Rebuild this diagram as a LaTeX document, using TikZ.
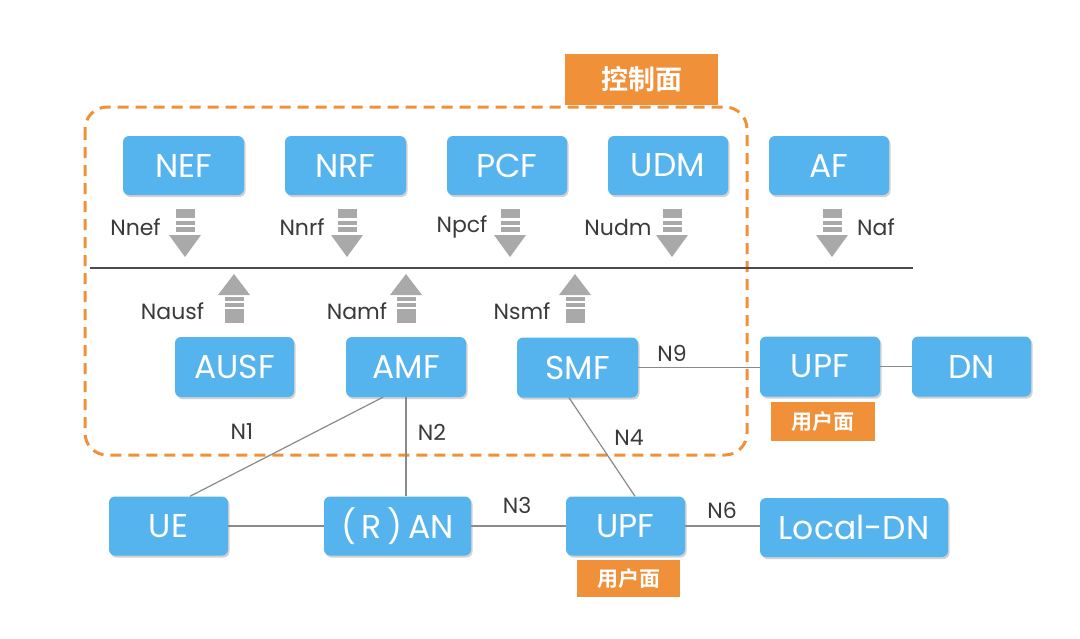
\documentclass[tikz,border=0pt]{standalone}
\usepackage{fontspec}
\setmainfont{Poppins}
\newfontfamily\cjkfont{Noto Sans CJK SC}[BoldFont={Noto Sans CJK SC Bold}]
\usetikzlibrary{shadows,calc}
\definecolor{boxblue}{HTML}{55B3EE}
\definecolor{planeorange}{HTML}{F0913A}
\definecolor{arrowgray}{HTML}{A9A9A9}
\definecolor{linegray}{HTML}{8A8A8A}
\definecolor{txtgray}{HTML}{3A3A3A}
\tikzset{
  nfbox/.style={rounded corners=6pt, fill=boxblue, text=white, inner sep=0pt,
    font=\fontsize{33}{33}\selectfont,
    drop shadow={shadow xshift=1.5pt, shadow yshift=-2pt, opacity=0.18, fill=black}},
  ifacelbl/.style={text=txtgray, font=\fontsize{22}{22}\selectfont, inner sep=0pt},
  planetag/.style={fill=planeorange, text=white, inner sep=0pt,
    font=\cjkfont\bfseries\fontsize{21}{21}\selectfont},
  conn/.style={draw=linegray, line width=1.2pt},
}
\newcommand{\downarrowicon}[2]{% center x, top y
  \fill[arrowgray] (#1-9.5,#2) rectangle (#1+9.5,#2+9);
  \fill[arrowgray] (#1-9.5,#2+12) rectangle (#1+9.5,#2+16);
  \fill[arrowgray] (#1-9.5,#2+18) rectangle (#1+9.5,#2+23);
  \fill[arrowgray] (#1-16,#2+26) -- (#1+16,#2+26) -- (#1,#2+48) -- cycle;
}
\newcommand{\uparrowicon}[2]{% center x, tip y
  \fill[arrowgray] (#1-16,#2+21) -- (#1+16,#2+21) -- (#1,#2) -- cycle;
  \fill[arrowgray] (#1-9.5,#2+23) rectangle (#1+9.5,#2+27);
  \fill[arrowgray] (#1-9.5,#2+29) rectangle (#1+9.5,#2+33);
  \fill[arrowgray] (#1-9.5,#2+35) rectangle (#1+9.5,#2+49);
}
\begin{document}
\begin{tikzpicture}[x=1pt,y=-1pt]
\useasboundingbox[fill=white] (0,0) rectangle (1080,638);

% control plane dashed region
\draw[planeorange, line width=3pt, dash pattern=on 11pt off 7pt, rounded corners=22pt]
  (85,107) rectangle (747,455);
\node[planetag, minimum width=153pt, minimum height=51pt,
  font=\cjkfont\bfseries\fontsize{27}{27}\selectfont] (cplane) at (641.5,79.5) {控制面};

% service bus line
\coordinate (busL) at (90,268);
\coordinate (busR) at (913,268);
\draw[draw=black!70, line width=2.2pt] (busL) -- (busR);

% top row
\node[nfbox, minimum width=121pt, minimum height=59pt] (nef) at (183.5,165.5) {NEF};
\node[nfbox, minimum width=121pt, minimum height=59pt] (nrf) at (345.5,165.5) {NRF};
\node[nfbox, minimum width=120pt, minimum height=59pt] (pcf) at (507,165.5) {PCF};
\node[nfbox, minimum width=120pt, minimum height=59pt] (udm) at (668,165.5) {UDM};
\node[nfbox, minimum width=120pt, minimum height=59pt] (af) at (829,165.5) {AF};

% middle row
\node[nfbox, minimum width=119pt, minimum height=60pt] (ausf) at (234.5,367) {AUSF};
\node[nfbox, minimum width=120pt, minimum height=60pt] (amf) at (406,367) {AMF};
\node[nfbox, minimum width=121pt, minimum height=60pt] (smf) at (577.5,367.5) {SMF};
\node[nfbox, minimum width=120pt, minimum height=60pt] (upfa) at (820,366.5) {UPF};
\node[nfbox, minimum width=119pt, minimum height=60pt] (dn) at (971.5,366.5) {DN};
\node[planetag, minimum width=104pt, minimum height=39pt] (uplaneA) at (823,421.5) {用户面};

% bottom row
\node[nfbox, minimum width=119pt, minimum height=59pt] (ue) at (168.5,526) {UE};
\node[nfbox, minimum width=147pt, minimum height=59pt] (an) at (397.5,526) {(\,R\,)\,AN};
\node[nfbox, minimum width=119pt, minimum height=59pt] (upfb) at (625.5,526) {UPF};
\node[nfbox, minimum width=188pt, minimum height=59pt] (ldn) at (854,527.5) {Local-DN};
\node[planetag, minimum width=103pt, minimum height=37pt] (uplaneB) at (628.5,578.5) {用户面};

% service interface arrows
\downarrowicon{185}{209}
\downarrowicon{347}{209}
\downarrowicon{510}{209}
\downarrowicon{672}{209}
\downarrowicon{832}{209}
\uparrowicon{234}{274}
\uparrowicon{406}{274}
\uparrowicon{575}{274}

\node[ifacelbl] (lnef) at (135.5,227) {Nnef};
\node[ifacelbl] (lnrf) at (302,227) {Nnrf};
\node[ifacelbl] (lpcf) at (462,227) {Npcf};
\node[ifacelbl] (ludm) at (618,227) {Nudm};
\node[ifacelbl] (laf) at (876,227) {Naf};
\node[ifacelbl] (lausf) at (172.5,311) {Nausf};
\node[ifacelbl] (lamf) at (357,311) {Namf};
\node[ifacelbl] (lsmf) at (522,311) {Nsmf};

% reference point connectors
\draw[conn] ($(amf.south)+(-23,0)$) -- ($(ue.north)+(21.5,0)$);
\draw[conn] (amf.south) -- (amf.south |- an.north);
\draw[conn] ($(smf.south)+(-8.5,0)$) -- ($(upfb.north)+(9.5,0)$);
\draw[conn] (smf.east) -- (smf.east -| upfa.west);
\draw[conn] (upfa.east) -- (dn.west);
\draw[conn] (ue.east) -- (ue.east -| an.west);
\draw[conn] (an.east) -- (an.east -| upfb.west);
\draw[conn] (upfb.east) -- (upfb.east -| ldn.west);

\node[ifacelbl] (n1) at (242,432) {N1};
\node[ifacelbl] (n2) at (432,432) {N2};
\node[ifacelbl] (n3) at (517,505) {N3};
\node[ifacelbl] (n4) at (629,438) {N4};
\node[ifacelbl] (n6) at (722,510) {N6};
\node[ifacelbl] (n9) at (672,353) {N9};
\end{tikzpicture}
\end{document}
